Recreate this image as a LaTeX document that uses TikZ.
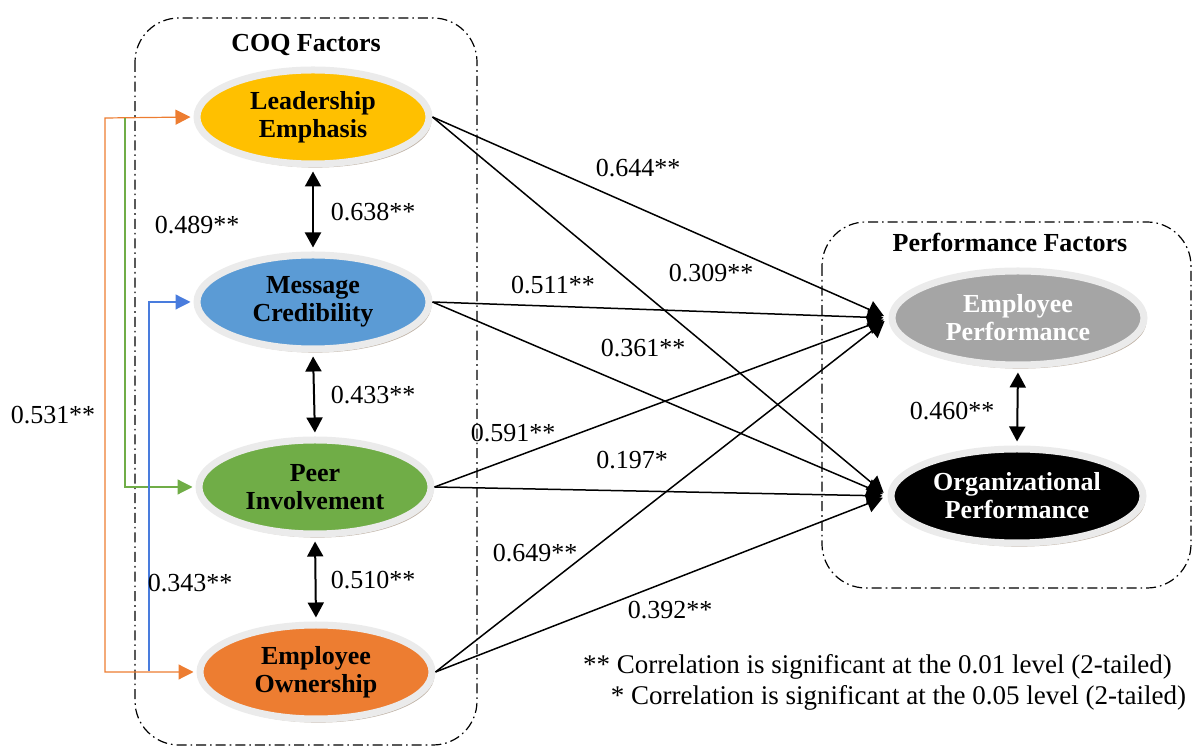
\documentclass[tikz,border=0pt]{standalone}
\usepackage{fontspec}
\setmainfont{Liberation Serif}
\usetikzlibrary{shapes.geometric,shadows,arrows.meta}
\definecolor{leadcol}{HTML}{FFC000}
\definecolor{msgcol}{HTML}{5B9BD5}
\definecolor{peercol}{HTML}{70AD47}
\definecolor{owncol}{HTML}{ED7D31}
\definecolor{epcol}{HTML}{A5A5A5}
\definecolor{ringcol}{HTML}{EBEBEB}

\tikzset{
  factor/.style={ellipse, draw=ringcol, line width=3.5pt, inner sep=0pt,
    minimum width=116pt, minimum height=47pt, align=center,
    font=\fontsize{13}{14}\selectfont\bfseries,
    drop shadow={shadow xshift=1.2pt, shadow yshift=-1.8pt, opacity=.4, fill=brown!50!black}},
  coef/.style={font=\fontsize{13}{15}\selectfont},
  effect/.style={line width=0.75pt, -{Triangle[length=8pt,width=9pt]}, shorten >=2.5pt},
  corr/.style={line width=1pt, {Triangle[length=7.5pt,width=8pt]}-{Triangle[length=7.5pt,width=8pt]}, shorten >=2pt, shorten <=2pt},
  link/.style={line width=0.6pt, -{Triangle[length=7.5pt,width=7.5pt]}, shorten >=1.5pt},
  group/.style={dash pattern=on 5pt off 2pt on 0.8pt off 2pt, line width=0.6pt, rounded corners=22pt}
}

\begin{document}
\begin{tikzpicture}[x=0.5pt,y=-0.5pt]
\useasboundingbox (0,0) rectangle (1194,747);

% group boxes
\draw [group] (135,18) rectangle (477,745);
\draw [group] (822,222) rectangle (1191,588);
\node [coef,font=\fontsize{13}{15}\selectfont\bfseries] (coqt) at (306,45) {COQ Factors};
\node [coef,font=\fontsize{13}{15}\selectfont\bfseries] (perft) at (1010,242) {Performance Factors};

% factors
\node [factor, fill=leadcol] (lead) at (313,117) {Leadership\\Emphasis};
\node [factor, fill=msgcol] (msg) at (313,302) {Message\\Credibility};
\node [factor, fill=peercol] (peer) at (315,487) {Peer\\Involvement};
\node [factor, fill=owncol] (own) at (316,672) {Employee\\Ownership};
\node [factor, fill=epcol, text=white, minimum width=126pt] (ep) at (1018,318) {Employee\\Performance};
\node [factor, fill=black, text=white, minimum width=126pt] (op) at (1017,496) {Organizational\\Performance};

% correlations
\draw [corr] (lead.south) -- (msg.north);
\draw [corr] (msg.south) -- (peer.north);
\draw [corr] (peer.south) -- (own.north);
\draw [corr] (ep.south) -- (op.north);
\node [coef] (c638) at (373,212) {0.638**};
\node [coef] (c433) at (373,395) {0.433**};
\node [coef] (c510) at (373,580) {0.510**};
\node [coef] (c460) at (952,411) {0.460**};

% left links
\coordinate (gtop) at (125,118);
\coordinate (bbot) at (149,671);
\draw [link, owncol, {Triangle[length=7.5pt,width=7.5pt]}-{Triangle[length=7.5pt,width=7.5pt]}, shorten <=1.5pt] (lead.west) -- (105,118) |- (own.west);
\draw [link, peercol] (gtop) |- (peer.west);
\draw [link, msgcol!80!blue] (bbot) |- (msg.west);
\node [coef] (c531) at (53,415) {0.531**};
\node [coef] (c489) at (197,225) {0.489**};
\node [coef] (c343) at (190,583) {0.343**};

% effects
\draw [effect] (lead.east) -- (ep.west);
\draw [effect] (lead.east) -- (op.west);
\draw [effect] (msg.east) -- (ep.west);
\draw [effect] (msg.east) -- (op.west);
\draw [effect] (peer.east) -- (ep.west);
\draw [effect] (peer.east) -- (op.west);
\draw [effect] (own.east) -- (ep.west);
\draw [effect] (own.east) -- (op.west);
\node [coef] (c644) at (638,168) {0.644**};
\node [coef] (c309) at (711,273) {0.309**};
\node [coef] (c511) at (553,285) {0.511**};
\node [coef] (c361) at (643,348) {0.361**};
\node [coef] (c591) at (513,433) {0.591**};
\node [coef] (c197) at (632,460) {0.197*};
\node [coef] (c649) at (535,553) {0.649**};
\node [coef] (c392) at (670,610) {0.392**};

% notes
\node [coef, font=\fontsize{13.5}{16}\selectfont, anchor=west] (note1) at (576,667) {** Correlation is significant at the 0.01 level (2-tailed)};
\node [coef, font=\fontsize{13.5}{16}\selectfont, anchor=east] (note2) at (1193,698) {* Correlation is significant at the 0.05 level (2-tailed)};

\end{tikzpicture}
\end{document}
